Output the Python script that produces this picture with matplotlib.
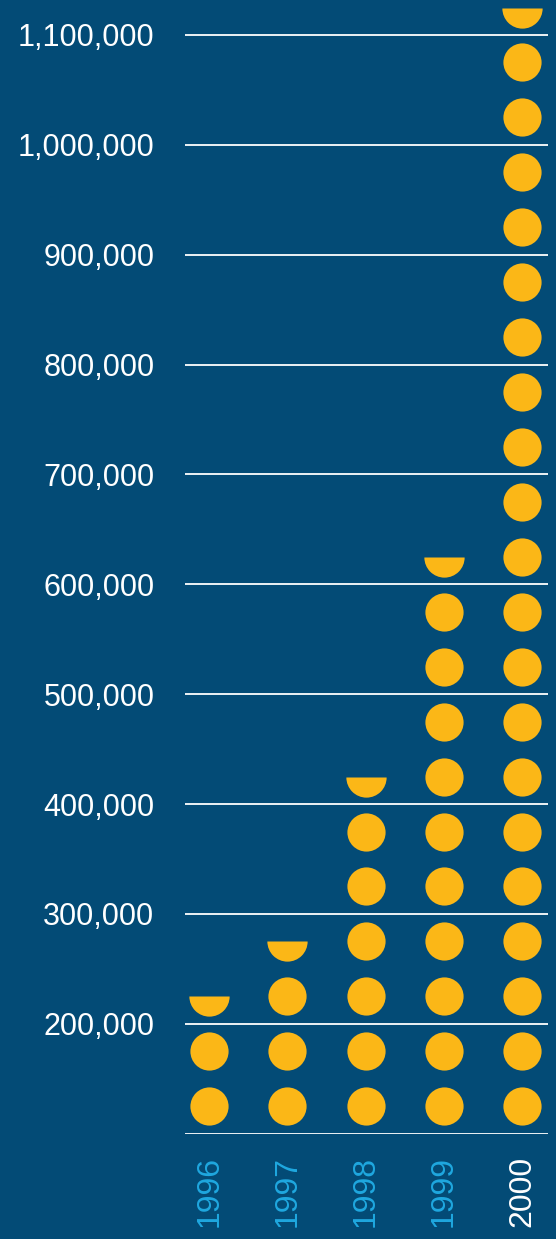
import numpy as np
import matplotlib
matplotlib.use("Agg")
import matplotlib.pyplot as plt

# values; every dot stands for 50,000
years = ["1996", "1997", "1998", "1999", "2000"]
values = [225000, 275000, 425000, 625000, 1125000]
year_colors = ["#1fa8e0", "#1fa8e0", "#1fa8e0", "#1fa8e0", "#ffffff"]
yticks = [200000, 300000, 400000, 500000, 600000, 700000, 800000, 900000, 1000000, 1100000]
base = 100000
per_dot = 50000

bg = "#034b76"
gold = "#fbb717"

plt.rcParams['font.family'] = ['Liberation Sans', 'DejaVu Sans']

fig = plt.figure(figsize=(5.56, 12.39), dpi=100, facecolor=bg)
ax = fig.add_axes([185/556, 1 - 1133.7/1239, (548 - 185)/556, 1133.7/1239])
ax.set_facecolor(bg)

dot_ms = 27.5  # points
for i, v in enumerate(values):
    n = (v - base) / per_dot
    full = int(np.floor(n))
    ys = base + per_dot * (np.arange(full) + 0.5)
    ax.plot([i] * full, ys, 'o', ms=dot_ms, color=gold, mec='none', zorder=3)
    if n - full > 0:
        ax.plot([i], [base + per_dot * (full + 0.5)], 'o', ms=dot_ms + 1.5, color=gold,
                fillstyle='bottom', markerfacecoloralt='none', mec='none', zorder=3)

for y in [base] + yticks:
    ax.axhline(y, color="white", lw=1.3, zorder=2)

ax.set_xlim(-0.31, 4.33)
ax.set_ylim(base, base + 1133.7 / 109.87 * 100000)

ax.set_yticks(yticks)
ax.set_yticklabels([f"{v:,}" for v in yticks], fontsize=22, color="white")
ax.set_xticks(range(len(years)))
ax.set_xticklabels(years, rotation=90, fontsize=23, va="top")
for lab, c in zip(ax.get_xticklabels(), year_colors):
    lab.set_color(c)
ax.tick_params(axis="y", length=0, pad=22)
ax.tick_params(axis="x", length=0, pad=16)
for s in ax.spines.values():
    s.set_visible(False)

fig.savefig("out.png", dpi=100, facecolor=bg)
